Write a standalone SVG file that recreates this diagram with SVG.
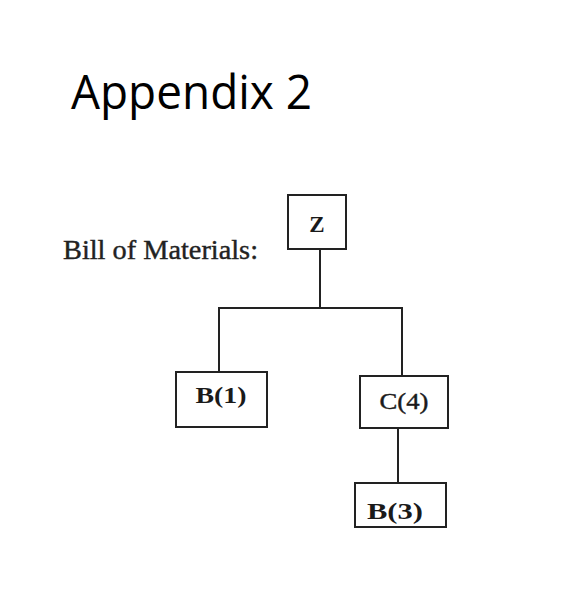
<svg xmlns="http://www.w3.org/2000/svg" width="565" height="597" viewBox="0 0 565 597">
<style>
.box{fill:#fff;stroke:#222;stroke-width:2}
.lbl{font-family:"Liberation Serif","Times New Roman",serif;font-size:23px;fill:#1a1a1a;text-anchor:middle}
.conn{fill:none;stroke:#222;stroke-width:2}
</style>
<rect width="565" height="597" fill="#fff"/>
<text x="71" y="109" font-family="'Open Sans','Liberation Sans',sans-serif" font-size="48" fill="#000" textLength="241" lengthAdjust="spacingAndGlyphs">Appendix 2</text>
<text x="63" y="259" font-family="'Liberation Serif','Times New Roman',serif" font-size="27" fill="#222" stroke="#222" stroke-width="0.4" textLength="195" lengthAdjust="spacingAndGlyphs">Bill of Materials:</text>
<g id="connectors">
<path class="conn" d="M320 249 V308 M219 308 H402 M219 307 V372 M402 307 V376 M398 428 V483"/>
</g>
<g id="node-z">
<rect class="box" x="288" y="195" width="58" height="54"/>
<text class="lbl" x="317" y="232" font-weight="bold" font-size="25">Z</text>
</g>
<g id="node-b1">
<rect class="box" x="176" y="372" width="91" height="55"/>
<text class="lbl" x="221" y="403" font-weight="bold" textLength="51" lengthAdjust="spacingAndGlyphs">B(1)</text>
</g>
<g id="node-c4">
<rect class="box" x="360" y="376" width="88" height="52"/>
<text class="lbl" x="404" y="409" stroke="#1a1a1a" stroke-width="0.4" textLength="49" lengthAdjust="spacingAndGlyphs">C(4)</text>
</g>
<g id="node-b3">
<rect class="box" x="355" y="483" width="91" height="44"/>
<text class="lbl" x="395" y="519" font-weight="bold" textLength="56" lengthAdjust="spacingAndGlyphs">B(3)</text>
</g>
</svg>
